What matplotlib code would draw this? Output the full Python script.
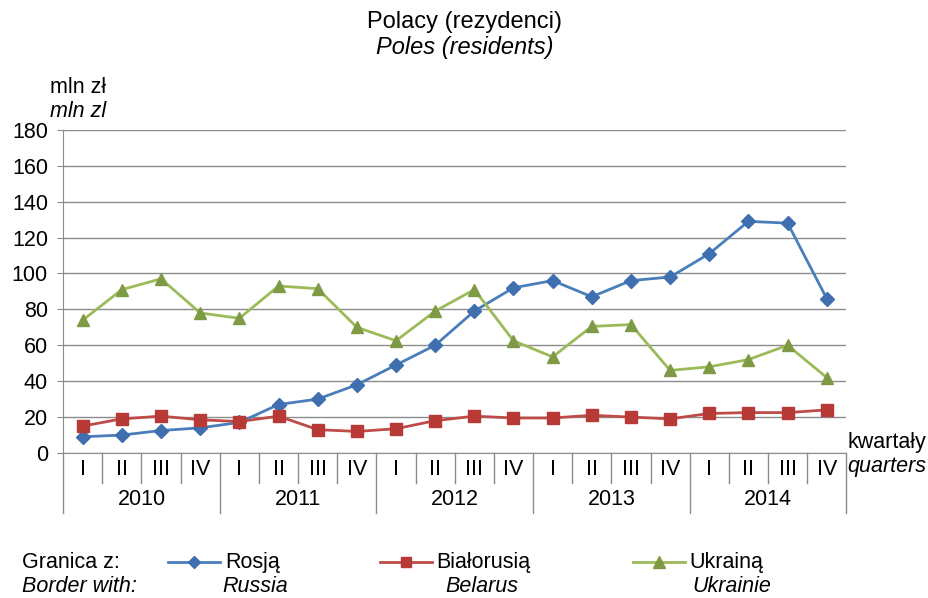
import matplotlib.pyplot as plt
import numpy as np

plt.rcParams['font.family'] = ['Liberation Sans', 'DejaVu Sans']

# ── data ─────────────────────────────────────────────────────────────────────
YEARS = ["2010", "2011", "2012", "2013", "2014"]
QUARTERS = ["I", "II", "III", "IV"]

russia = [9, 10, 12.5, 14, 17, 27, 30, 38, 49, 60,
          79, 92, 96, 87, 96, 98, 111, 129, 128, 86]
belarus = [15, 19, 20.5, 18.5, 17.5, 20.5, 13, 12, 13.5, 18,
           20.5, 19.5, 19.5, 21, 20, 19, 22, 22.5, 22.5, 24]
ukraine = [74, 91, 97, 78, 75, 93, 91.5, 70, 62.5, 79,
           91, 62.5, 53.5, 70.5, 71.5, 46, 48, 52, 60, 42]

SERIES = [
    ("Rosją", "Russia", russia, "#4A7EBB", "#3F6FAE", "D", 7),
    ("Białorusią", "Belarus", belarus, "#BE4B48", "#B83A36", "s", 8),
    ("Ukrainą", "Ukrainie", ukraine, "#9BBB59", "#7E9A44", "^", 9),
]

FS = 15.5
GRID = "#8C8C8C"

fig = plt.figure(figsize=(9.29, 5.98), dpi=100)
ax = fig.add_axes([0.068, 0.2425, 0.843, 0.5405])

n = len(russia)
x = np.arange(n)
for pl, en, vals, lc, mc, mk, ms in SERIES:
    ax.plot(x, vals, color=lc, lw=2, marker=mk, ms=ms,
            mfc=mc, mec=mc, zorder=3)

ax.set_xlim(-0.5, n - 0.5)
ax.set_ylim(0, 180)
ax.set_yticks(range(0, 181, 20))
ax.tick_params(axis="y", length=4, color=GRID, labelsize=FS, pad=7)
ax.set_xticks([])
ax.grid(axis="y", color=GRID, lw=1)
ax.set_axisbelow(True)
for s in ["top", "right"]:
    ax.spines[s].set_visible(False)
ax.spines["left"].set_color(GRID)
ax.spines["bottom"].set_color(GRID)

# category axis: quarters and years
tr = ax.get_xaxis_transform()
row = 30 / 323  # height of one label row, in axes fraction
for i in range(n):
    ax.text(i, -row / 2 - 0.005, QUARTERS[i % 4], transform=tr, ha="center",
            va="center", fontsize=FS, clip_on=False)
for b in range(n + 1):
    edge = b - 0.5
    depth = -2 * row if b % 4 == 0 else -row
    ax.plot([edge, edge], [0, depth], transform=tr, color=GRID, lw=1,
            clip_on=False)
for k, yr in enumerate(YEARS):
    ax.text(4 * k + 1.5, -1.55 * row, yr, transform=tr, ha="center",
            va="center", fontsize=FS, clip_on=False)

# titles and axis captions
fig.text(0.5, 0.963, "Polacy (rezydenci)", ha="center", va="center", fontsize=17)
fig.text(0.5, 0.920, "Poles (residents)", ha="center", va="center",
         fontsize=17, style="italic")
fig.text(0.054, 0.853, "mln zł", ha="left", va="center", fontsize=FS)
fig.text(0.054, 0.813, "mln zl", ha="left", va="center", fontsize=FS, style="italic")
fig.text(0.912, 0.260, "kwartały", ha="left", va="center", fontsize=FS)
fig.text(0.912, 0.220, "quarters", ha="left", va="center", fontsize=FS, style="italic")

# legend at the bottom
ROW1, ROW2 = 0.060, 0.020
fig.text(0.024, ROW1, "Granica z:", ha="left", va="center", fontsize=FS)
fig.text(0.024, ROW2, "Border with:", ha="left", va="center", fontsize=FS, style="italic")
LEG_X = [0.181, 0.409, 0.681]
SUB_DX = [0.0, 0.012, 0.006]
for (pl, en, vals, lc, mc, mk, ms), lx, dx in zip(SERIES, LEG_X, SUB_DX):
    fig.add_artist(plt.Line2D([lx, lx + 0.056], [ROW1, ROW1], color=lc, lw=2,
                              transform=fig.transFigure))
    fig.add_artist(plt.Line2D([lx + 0.028], [ROW1], marker=mk, ms=ms - 1,
                              mfc=mc, mec=mc, transform=fig.transFigure))
    fig.text(lx + 0.061, ROW1, pl, ha="left", va="center", fontsize=FS)
    fig.text(lx + 0.058 + dx, ROW2, en, ha="left", va="center",
             fontsize=FS, style="italic")

fig.savefig("out.png", dpi=100)
